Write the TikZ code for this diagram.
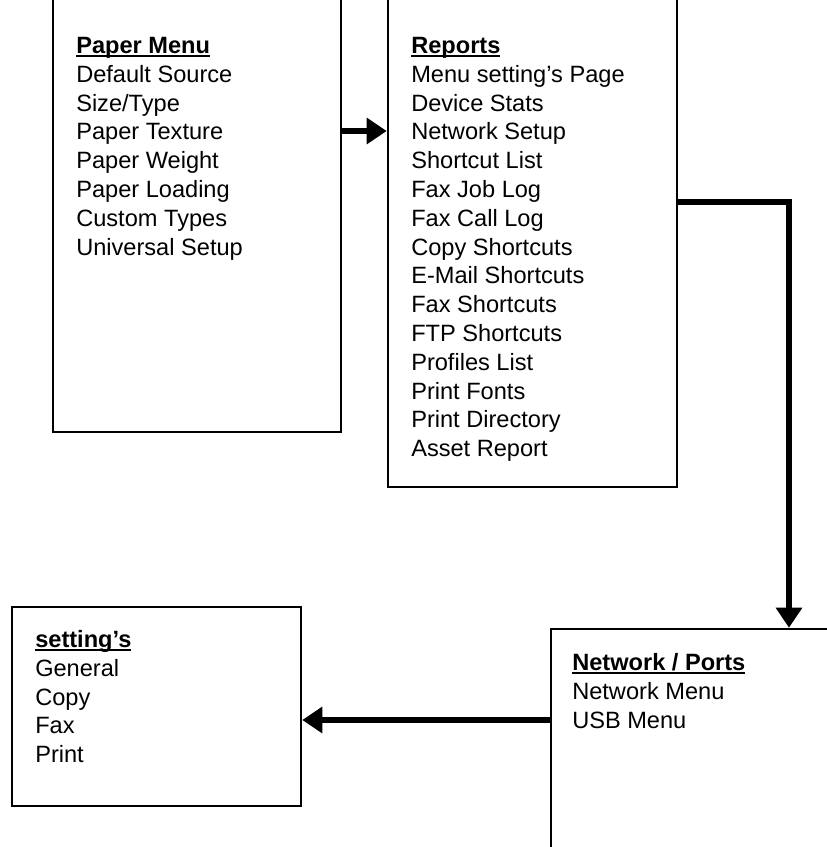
\documentclass[tikz,border=0pt]{standalone}
\usepackage{fontspec}
\setmainfont{Liberation Sans}
\usetikzlibrary{arrows.meta,backgrounds,fit}

\newcommand\menuhead[1]{\strut\setbox0\hbox{\bfseries #1}\rlap{\rule[-3pt]{\wd0}{1.5pt}}\box0}

\begin{document}
\begin{tikzpicture}[x=0.75pt, y=-0.75pt,
    menubox/.style={draw=black, line width=1.9pt, inner sep=0pt},
    menulist/.style={anchor=north west, inner sep=0pt, align=left,
      font=\fontsize{17.7}{21.6}\selectfont},
    link/.style={line width=4.3pt},
    linkarrow/.style={link, -{Triangle[length=15pt, width=19pt]}}]
      \clip (0, 0) rectangle (827, 847);

      \draw (76, 33) node [menulist] (paper_list)
      {\menuhead{Paper Menu}\\Default Source\\Size/Type\\Paper Texture\\
        Paper Weight\\Paper Loading\\Custom Types\\Universal Setup};

      \draw (411, 33) node [menulist] (reports_list)
      {\menuhead{Reports}\\Menu setting’s Page\\Device Stats\\Network Setup\\
        Shortcut List\\Fax Job Log\\Fax Call Log\\Copy Shortcuts\\
        E-Mail Shortcuts\\Fax Shortcuts\\FTP Shortcuts\\Profiles List\\
        Print Fonts\\Print Directory\\Asset Report};

      \draw (35, 627) node [menulist] (settings_list)
      {\menuhead{setting’s}\\General\\Copy\\Fax\\Print};

      \draw (572, 650) node [menulist] (network_list)
      {\menuhead{Network / Ports}\\Network Menu\\USB Menu};

      %%%%%%%%%%%%%%%%%%%%%%%%%%%%%%%%%%%%%%%%%%%%%%%%%%%%%%%%%%%%%%
      % Boxes
      %%%%%%%%%%%%%%%%%%%%%%%%%%%%%%%%%%%%%%%%%%%%%%%%%%%%%%%%%%%%%%
      \begin{scope}[on background layer]
        \node [menubox, fit={(53, -30) (341, 432)}] (paper) {};
        \node [menubox, fit={(388, -30) (677, 487)}] (reports) {};
        \node [menubox, fit={(12, 607) (301, 806)}] (settings) {};
        \node [menubox, fit={(551, 629) (880, 900)}] (network) {};
      \end{scope}

      %%%%%%%%%%%%%%%%%%%%%%%%%%%%%%%%%%%%%%%%%%%%%%%%%%%%%%%%%%%%%%
      % Links
      %%%%%%%%%%%%%%%%%%%%%%%%%%%%%%%%%%%%%%%%%%%%%%%%%%%%%%%%%%%%%%
      \coordinate (paper_out) at (0, 131);
      \coordinate (reports_out) at (789, 202);
      \coordinate (network_out) at (0, 720);
      \draw [linkarrow] (paper.east |- paper_out) -- (reports.west |- paper_out);
      \draw [linkarrow] (reports.east |- reports_out) -| (reports_out |- network.north);
      \draw [linkarrow] (network.west |- network_out) -- (settings.east |- network_out);
\end{tikzpicture}
\end{document}
